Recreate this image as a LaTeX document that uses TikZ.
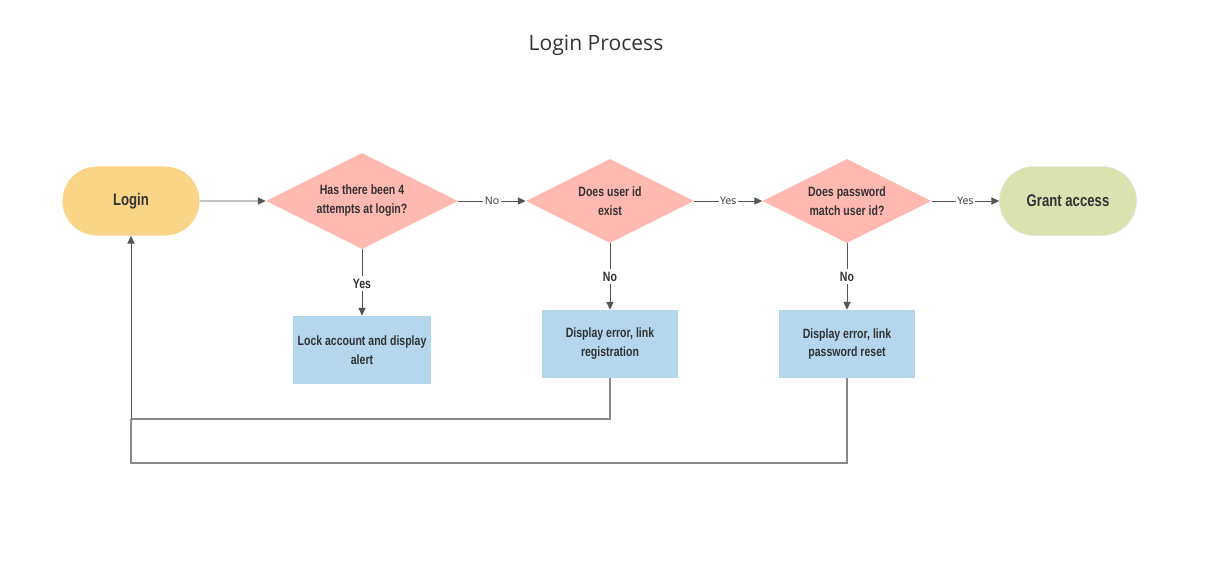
\documentclass[tikz,border=0pt]{standalone}
\usepackage{fontspec}
\setmainfont{Open Sans}
\newfontfamily\condfont[FakeStretch=0.78]{Liberation Sans}
\usetikzlibrary{shapes.geometric,shapes.misc,arrows.meta}

\definecolor{termyellow}{RGB}{250,212,135}
\definecolor{termgreen}{RGB}{218,227,176}
\definecolor{decpink}{RGB}{255,185,177}
\definecolor{boxblue}{RGB}{180,215,238}
\definecolor{linegray}{RGB}{85,85,85}
\definecolor{txtgray}{RGB}{51,51,51}

\begin{document}
\begin{tikzpicture}[x=0.025cm,y=-0.025cm,
  term/.style={rounded rectangle, minimum width=3.425cm, minimum height=1.725cm, inner sep=0pt,
    text=txtgray, font=\condfont\bfseries\fontsize{12}{14}\selectfont},
  decision/.style={diamond, aspect=2, inner sep=0pt, fill=decpink, align=center,
    text=txtgray, font=\condfont\bfseries\fontsize{9.6}{13.5}\selectfont},
  action/.style={rectangle, fill=boxblue, minimum width=3.4cm, minimum height=1.7cm, align=center,
    text=txtgray, font=\condfont\bfseries\fontsize{9.6}{13.5}\selectfont},
  flow/.style={draw=linegray, line width=0.7pt, -{Triangle[length=5.5pt,width=5pt]}},
  loop/.style={draw=linegray!70, line width=0.8pt},
  hlabel/.style={fill=white, inner sep=1pt, text=txtgray, font=\fontsize{7.5}{9}\selectfont},
  vlabel/.style={fill=white, inner sep=2pt, text=txtgray, font=\condfont\bfseries\fontsize{9.6}{11}\selectfont}]
\useasboundingbox (0,0) rectangle (1217,567);

% title
\node[text=txtgray, font=\fontsize{15}{18}\selectfont] (title) at (596,45) {Login Process};

% top row
\node[term, fill=termyellow] (login) at (131,201) {Login};
\node[decision, minimum width=4.8cm, minimum height=2.4cm] (attempts) at (362,201) {Has there been 4\\attempts at login?};
\node[decision, minimum width=4.2cm, minimum height=2.1cm] (userid) at (610,201) {Does user id\\exist};
\node[decision, minimum width=4.225cm, minimum height=2.1cm] (passwd) at (847,201) {Does password\\match user id?};
\node[term, fill=termgreen, draw=black!10] (grant) at (1068,201) {Grant access};

% bottom row
\node[action] (lock) at (362,350) {Lock account and display\\alert};
\node[action] (reg) at (610,344) {Display error, link\\registration};
\node[action] (reset) at (847,344) {Display error, link\\password reset};

% return lines
\coordinate (loopA) at (131,419);
\coordinate (loopB) at (131,463);

\path[flow] (login) -- (attempts);
\path[flow] (attempts) -- node[hlabel] {No} (userid);
\path[flow] (userid) -- node[hlabel] {Yes} (passwd);
\path[flow] (passwd) -- node[hlabel] {Yes} (grant);

\path[flow] (attempts) -- node[vlabel, pos=0.52] {Yes} (lock);
\path[flow] (userid) -- node[vlabel] {No} (reg);
\path[flow] (passwd) -- node[vlabel] {No} (reset);

\path[loop] (reset.south) |- (loopB) -- (loopA);
\path[loop] (reg.south) |- (loopA);
\path[flow] (loopA) -- (login.south);
\end{tikzpicture}
\end{document}
